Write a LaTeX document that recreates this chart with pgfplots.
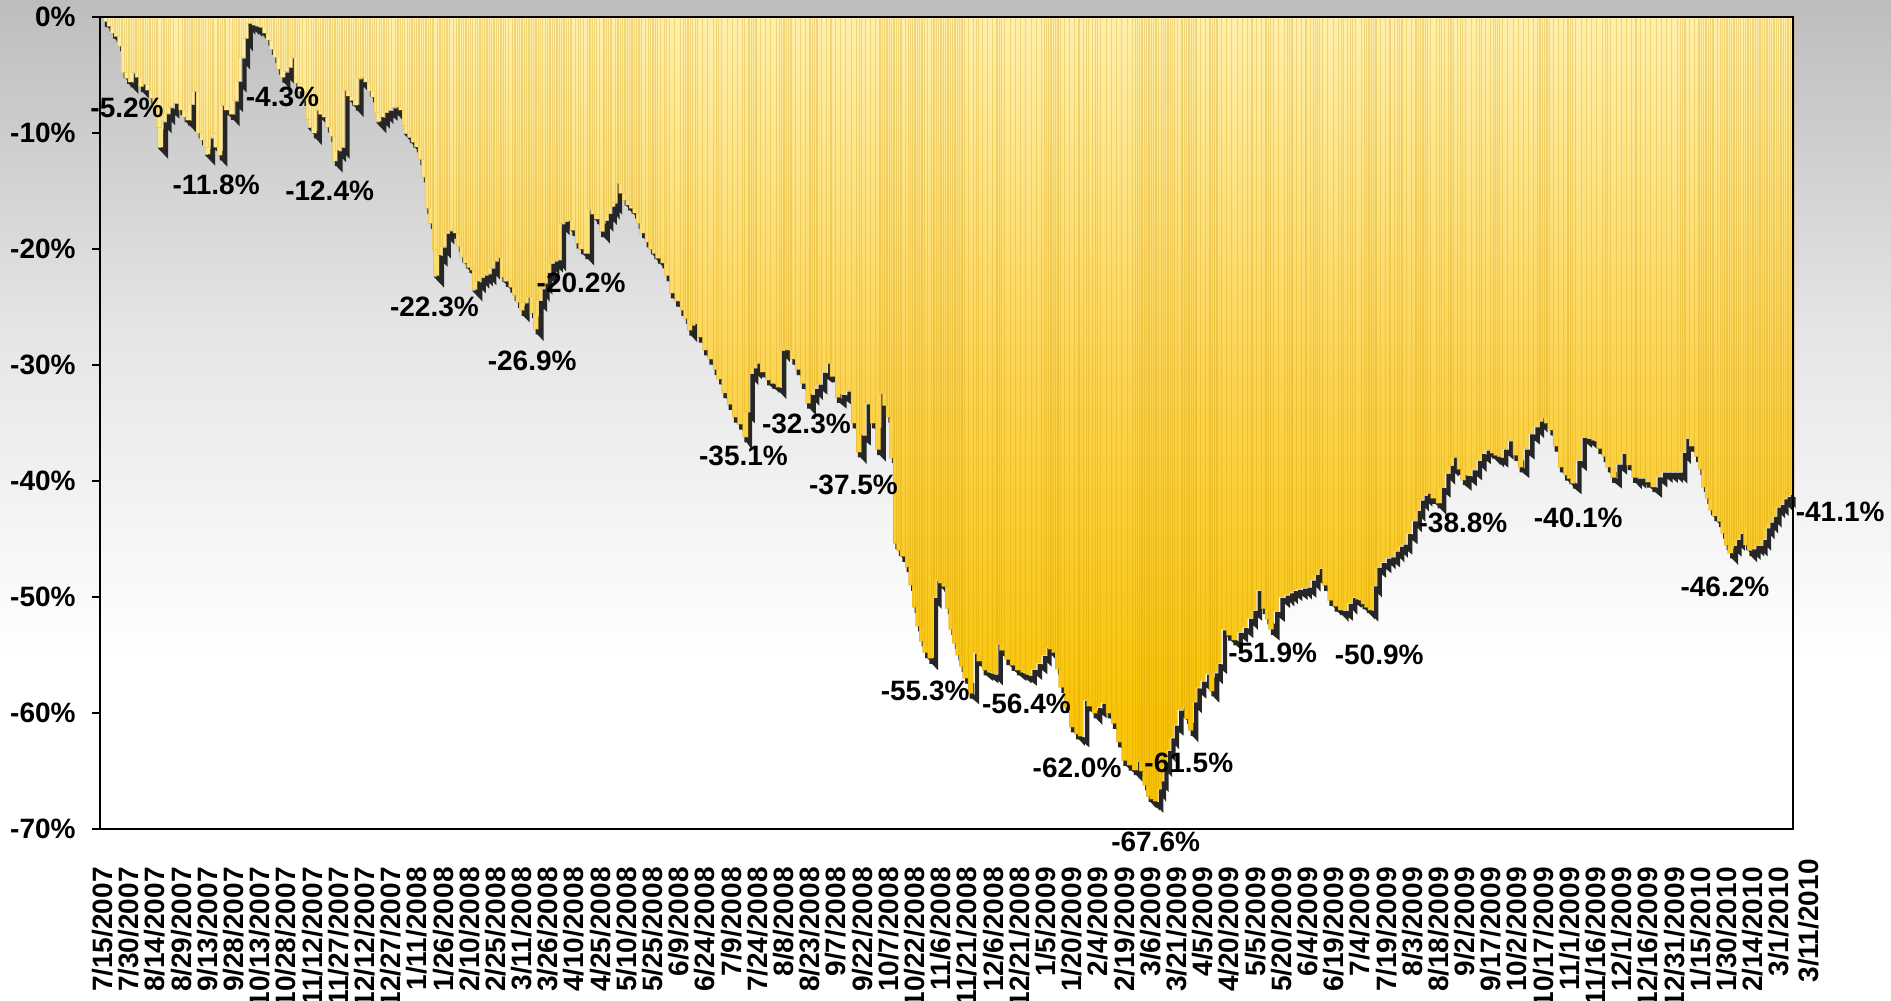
\documentclass[border=0pt]{standalone}
\usepackage{fontspec}
\setmainfont{Liberation Sans}
\usepackage{pgfplots}
\usepackage{pgfplotstable}
\pgfplotsset{compat=1.18}
\definecolor{ycream}{RGB}{255,239,172}
\definecolor{ymid}{RGB}{252,212,82}
\definecolor{ygold}{RGB}{249,196,8}
\definecolor{bgtop}{RGB}{189,189,189}
\definecolor{bgmid}{RGB}{230,230,230}
\definecolor{shad}{RGB}{38,38,38}
\pgfdeclareverticalshading{barshade}{100bp}{color(0bp)=(ygold); color(25bp)=(ygold); color(31bp)=(ygold); color(52bp)=(ymid); color(75bp)=(ycream); color(100bp)=(ycream)}
\pgfdeclareverticalshading{bgshade}{100bp}{color(0bp)=(white); color(25bp)=(white); color(42bp)=(white); color(58bp)=(bgmid); color(75bp)=(bgtop); color(100bp)=(bgtop)}
\pgfplotstableread{
x y
0 0
2 -0.4
4 -0.8
6 -1.4
8 -1.7
10 -2.5
12 -4.8
14 -5.3
16 -5.6
18 -4.8
20 -5.2
22 -6.0
24 -5.8
26 -6.3
28 -7.0
30 -8.0
32 -9.5
33 -11.2
35 -9.0
37 -8.3
39 -7.8
42 -7.4
45 -8.0
47 -8.6
49 -8.9
51 -7.5
53 -6.4
55 -10.0
57 -10.6
59 -11.2
60 -11.8
62 -10.4
64 -10.0
65 -11.2
67 -11.9
69 -7.6
71 -8.0
74 -8.4
76 -7.2
78 -5.5
80 -3.5
82 -1.8
83 -0.5
85 -0.5
87 -0.7
89 -0.8
91 -0.9
93 -1.4
95 -2.0
97 -2.8
99 -3.5
101 -4.5
103 -5.2
105 -4.7
107 -4.3
109 -3.5
111 -5.7
113 -6.4
116 -7.2
118 -8.8
119 -9.5
121 -10.0
123 -8.0
125 -8.4
127 -8.6
129 -9.5
131 -10.3
133 -12.4
135 -11.5
137 -11.2
139 -6.3
141 -6.8
143 -7.2
145 -7.6
147 -5.3
149 -5.2
151 -5.6
153 -6.4
155 -6.9
157 -8.2
158 -9.0
160 -8.6
162 -8.2
164 -8.0
167 -7.8
169 -7.7
171 -8.0
173 -9.3
174 -10.0
176 -10.4
178 -10.8
180 -11.2
182 -12.3
184 -13.8
186 -16.5
188 -17.8
190 -20.1
191 -22.3
193 -20.5
195 -19.8
197 -18.6
199 -18.4
202 -18.6
204 -19.8
206 -20.7
208 -21.2
210 -21.6
212 -21.8
213 -23.5
215 -22.8
217 -22.4
219 -22.2
221 -22.1
223 -21.6
225 -21.0
227 -20.7
229 -22.4
231 -22.8
234 -23.3
236 -24.0
238 -24.6
240 -25.3
242 -24.6
244 -24.1
246 -25.5
248 -26.9
250 -24.4
252 -23.4
253 -22.9
255 -22.0
257 -21.2
259 -21.0
261 -20.9
263 -17.8
265 -17.6
267 -17.5
269 -18.4
272 -19.5
274 -20.0
277 -20.4
279 -16.6
281 -17.0
283 -17.4
286 -18.5
288 -17.5
290 -16.9
292 -16.3
293 -16.0
295 -14.3
297 -15.2
299 -15.8
301 -16.2
303 -16.5
305 -16.9
307 -17.8
309 -18.6
312 -19.4
314 -20.0
316 -20.4
318 -20.8
321 -21.2
323 -22.3
326 -23.8
329 -24.5
332 -25.3
334 -26.0
336 -27.0
338 -26.6
339 -26.4
342 -27.6
345 -28.7
348 -29.5
351 -30.4
353 -31.2
356 -32.4
359 -33.4
362 -34.5
365 -35.1
368 -36.2
369 -34.0
371 -30.7
373 -30.2
375 -29.8
378 -30.6
381 -31.3
384 -31.6
387 -31.9
389 -28.7
391 -28.6
393 -28.7
395 -29.5
398 -30.4
401 -31.6
404 -33.3
406 -32.5
408 -32.0
410 -31.6
413 -30.6
416 -29.8
418 -31.0
421 -32.8
424 -32.5
427 -32.2
430 -35.0
433 -37.5
435 -36.0
438 -33.3
441 -35.0
444 -37.3
446 -32.4
448 -33.5
450 -34.5
452 -38.0
454 -45.4
456 -46.0
458 -46.5
461 -47.4
463 -49.0
465 -50.9
467 -52.5
469 -53.8
471 -54.8
474 -55.3
476 -50.0
478 -48.5
480 -48.8
482 -49.1
484 -51.0
486 -52.8
488 -54.0
490 -55.0
492 -56.0
494 -57.0
497 -58.3
500 -54.8
502 -55.5
505 -56.3
508 -56.5
511 -56.6
513 -54.0
515 -54.6
518 -55.4
521 -55.9
524 -56.3
527 -56.5
530 -56.7
533 -56.2
536 -55.7
539 -55.0
541 -54.3
543 -54.5
545 -54.8
547 -56.2
549 -57.8
552 -59.5
555 -61.2
558 -61.8
560 -62.0
563 -58.9
565 -59.4
568 -60.0
570 -59.5
573 -59.1
576 -60.0
579 -60.9
582 -62.5
585 -64.1
588 -64.5
591 -64.9
593 -64.1
595 -65.0
597 -66.2
599 -67.2
601 -67.4
603 -67.6
605 -66.5
606 -65.8
608 -64.5
610 -63.2
612 -62.1
614 -61.0
617 -59.7
619 -59.5
621 -60.5
623 -61.5
625 -59.0
627 -57.8
630 -57.2
633 -56.6
635 -58.1
637 -56.5
639 -55.7
642 -52.8
645 -53.3
648 -53.7
651 -53.0
654 -52.6
657 -51.8
659 -51.1
662 -49.4
665 -51.0
667 -51.9
669 -52.8
672 -51.2
675 -50.0
678 -49.8
680 -49.6
682 -49.4
685 -49.3
688 -49.2
690 -49.1
693 -48.5
695 -48.0
697 -47.5
700 -49.0
703 -50.3
706 -50.8
709 -51.1
711 -51.1
714 -50.5
716 -50.0
719 -50.2
722 -50.6
724 -50.9
726 -51.1
728 -49.0
730 -47.4
733 -47.0
736 -46.6
738 -46.5
741 -46.0
743 -45.6
745 -45.4
748 -44.5
751 -43.4
753 -42.5
755 -41.6
757 -41.2
759 -41.0
762 -41.5
765 -41.9
767 -40.5
770 -39.3
772 -38.6
774 -37.9
777 -39.0
779 -39.9
782 -39.5
785 -39.0
788 -38.2
790 -37.6
793 -37.3
796 -37.6
798 -37.8
800 -37.9
803 -37.2
806 -36.5
809 -37.8
812 -38.8
815 -37.2
818 -35.9
821 -35.3
823 -34.8
825 -34.5
827 -35.0
829 -35.6
832 -37.0
835 -38.8
838 -39.5
840 -39.8
842 -40.2
845 -38.2
848 -36.2
851 -36.3
854 -36.5
857 -37.2
860 -37.9
862 -38.8
865 -39.7
868 -38.5
871 -37.6
874 -38.6
877 -39.7
879 -39.7
882 -39.7
885 -40.1
888 -40.5
891 -39.6
894 -39.2
897 -39.2
900 -39.2
903 -39.2
905 -37.5
907 -36.3
910 -37.0
913 -37.9
915 -39.0
917 -40.5
919 -41.5
921 -42.5
923 -43.0
926 -43.5
928 -44.5
930 -45.5
932 -46.2
934 -45.5
936 -45.0
938 -44.5
939 -44.0
941 -45.5
943 -46.0
945 -45.8
947 -45.5
949 -45.5
951 -45.0
953 -44.0
955 -43.5
957 -43.0
959 -42.2
961 -42.0
963 -41.5
965 -41.3
967 -41.1
}\dd
\begin{document}
\begin{tikzpicture}
\shade[shading=bgshade] (-50pt,-86pt) rectangle (895.5pt,414.5pt);
\begin{axis}[
  at={(0,0)}, anchor=south west,
  scale only axis, width=846.5pt, height=406pt,
  xmin=-1.5, xmax=968, ymin=-70, ymax=0,
  clip=false,
  axis line style={line width=0.9pt, black},
  tick align=outside, major tick length=4pt,
  ytick pos=left,
  xtick style={draw=none},
  ytick style={line width=0.9pt, black},
  ytick={-70,-60,-50,-40,-30,-20,-10,0},
  yticklabels={-70\%,-60\%,-50\%,-40\%,-30\%,-20\%,-10\%,0\%},
  yticklabel style={font=\bfseries\fontsize{14}{14}\selectfont, inner sep=0pt, anchor=east},
  yticklabel shift=8pt,
  xtick={0,15,...,960},
  xticklabels={7/15/2007,7/30/2007,8/14/2007,8/29/2007,9/13/2007,9/28/2007,10/13/2007,10/28/2007,11/12/2007,11/27/2007,12/12/2007,12/27/2007,1/11/2008,1/26/2008,2/10/2008,2/25/2008,3/11/2008,3/26/2008,4/10/2008,4/25/2008,5/10/2008,5/25/2008,6/9/2008,6/24/2008,7/9/2008,7/24/2008,8/8/2008,8/23/2008,9/7/2008,9/22/2008,10/7/2008,10/22/2008,11/6/2008,11/21/2008,12/6/2008,12/21/2008,1/5/2009,1/20/2009,2/4/2009,2/19/2009,3/6/2009,3/21/2009,4/5/2009,4/20/2009,5/5/2009,5/20/2009,6/4/2009,6/19/2009,7/4/2009,7/19/2009,8/3/2009,8/18/2009,9/2/2009,9/17/2009,10/2/2009,10/17/2009,11/1/2009,11/16/2009,12/1/2009,12/16/2009,12/31/2009,1/15/2010,1/30/2010,2/14/2010,3/1/2010},
  xticklabel style={rotate=90, anchor=east, inner sep=0pt, font=\bfseries\fontsize{14}{14}\selectfont},
  xticklabel shift=15pt,
  axis on top,
]
\addplot[const plot mark mid, draw=shad, line width=2.2pt, line join=miter, xshift=1.3pt, yshift=-1.6pt] table[x=x,y=y] {\dd};
\addplot[ybar, bar width=3, shading=barshade, shade, draw={rgb,255:red,205;green,150;blue,0}, draw opacity=0.28, line width=0.25pt] table[x=x,y=y] {\dd};
\begin{scope}[every node/.style={font=\bfseries\fontsize{14}{14}\selectfont, inner sep=0pt}]
\node at (axis cs:14,-7.8) {-5.2\%};
\node at (axis cs:103,-6.9) {-4.3\%};
\node at (axis cs:65,-14.5) {-11.8\%};
\node at (axis cs:130,-15.0) {-12.4\%};
\node at (axis cs:190,-25.0) {-22.3\%};
\node at (axis cs:274,-22.9) {-20.2\%};
\node at (axis cs:246,-29.6) {-26.9\%};
\node at (axis cs:367,-37.8) {-35.1\%};
\node at (axis cs:403,-35.1) {-32.3\%};
\node at (axis cs:430,-40.3) {-37.5\%};
\node at (axis cs:471,-58.1) {-55.3\%};
\node at (axis cs:529,-59.2) {-56.4\%};
\node at (axis cs:558,-64.7) {-62.0\%};
\node at (axis cs:622,-64.3) {-61.5\%};
\node at (axis cs:603,-71.1) {-67.6\%};
\node at (axis cs:670,-54.8) {-51.9\%};
\node at (axis cs:731,-55.0) {-50.9\%};
\node at (axis cs:779,-43.6) {-38.8\%};
\node at (axis cs:845,-43.2) {-40.1\%};
\node at (axis cs:929,-49.1) {-46.2\%};
\node at (axis cs:995,-42.7) {-41.1\%};
\end{scope}
\node[rotate=90, anchor=east, inner sep=0pt, font=\bfseries\fontsize{14}{14}\selectfont] at ([yshift=-15pt]axis cs:977,-70) {3/11/2010};
\end{axis}
\pgfresetboundingbox
\useasboundingbox (-50pt,-86pt) rectangle (895.5pt,414.5pt);
\end{tikzpicture}
\end{document}
